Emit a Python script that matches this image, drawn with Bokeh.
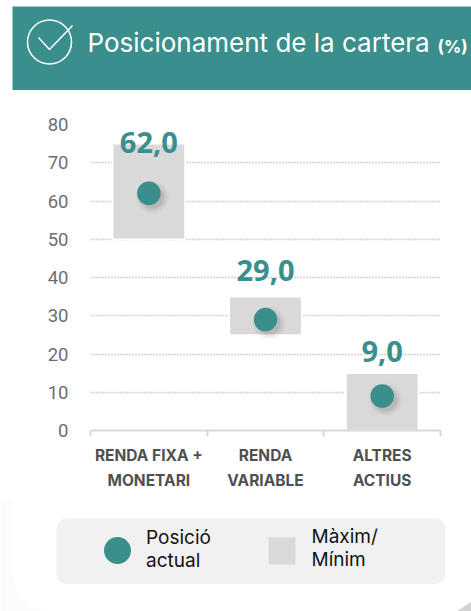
import math
from bokeh.plotting import figure
from bokeh.layouts import column
from bokeh.models import FixedTicker, ColumnDataSource, Range1d, LinearAxis, BoxAnnotation
from bokeh.embed import file_html
from bokeh.resources import INLINE
from bokeh.transform import dodge
from bokeh.core.properties import value

categories = ["RENDA FIXA +\nMONETARI", "RENDA\nVARIABLE", "ALTRES\nACTIUS"]
maximum = [75, 35, 15]
minimum = [50, 25, 0]
actual = [62.0, 29.0, 9.0]
labels = ["62,0", "29,0", "9,0"]
label_pos = [72.4, 39.0, 17.8]
y_ticks = [0, 10, 20, 30, 40, 50, 60, 70, 80]
title_text = "Posicionament de la cartera"
title_unit = "(%)"
legend_actual = ["Posició", "actual"]
legend_range = ["Màxim/", "Mínim"]

TEAL = "#3a8f8c"
GREY = "#d9d9d9"
W = 471


def panel(h, top):
    """A figure without axes whose data coordinates are page pixels (y downwards)."""
    f = figure(width=W, height=h, x_range=Range1d(0, W), y_range=Range1d(top + h, top),
               output_backend="svg", toolbar_location=None, min_border=0, frame_align=False,
               border_fill_color="#ffffff", background_fill_color="#ffffff", outline_line_color=None)
    f.axis.visible = False
    f.grid.visible = False
    return f


# header
H1 = 90
head = panel(H1, 0)
head.quad(left=[12], right=[W], top=[6], bottom=[90], fill_color=TEAL, line_color=None)
head.circle(x=[49], y=[41.5], radius=22, fill_color=None, line_color="#ffffff", line_width=1.5)
head.line(x=[38, 49, 72], y=[37, 49, 25], line_color="#ffffff", line_width=1.5)
head.text(x=[87], y=[52], text=[title_text], text_color="#ffffff", text_font=value("Inter"),
          text_font_size="26px", text_baseline="alphabetic", y_offset=-10)
head.text(x=[437], y=[52], text=[title_unit], text_color="#ffffff", text_font=value("Inter"),
          text_font_style="bold", text_font_size="17px", text_baseline="alphabetic", y_offset=-6)

# chart
centres = [i + 0.5 for i in range(len(categories))]
src = ColumnDataSource(dict(x=centres, hi=maximum, lo=minimum, val=actual, lab=labels, pos=label_pos))
H2 = 410
p = figure(width=W, height=H2, x_range=Range1d(0, len(categories)), y_range=Range1d(0, 80),
           output_backend="svg", toolbar_location=None, frame_align=False,
           min_border_left=90, min_border_right=31, min_border_top=34, min_border_bottom=H2 - 340,
           background_fill_color=None, border_fill_color="#ffffff", outline_line_color=None)
p.add_layout(BoxAnnotation(left=0, right=12, top=0, bottom=H2, left_units="canvas", right_units="canvas",
                           top_units="canvas", bottom_units="canvas", fill_color="#fcfcfc", fill_alpha=1,
                           line_color=None))
p.xgrid.visible = False
p.ygrid.grid_line_color = "#a8a8a8"
p.ygrid.grid_line_dash = "1 2"
p.ygrid.grid_line_width = 1.5
p.ygrid.ticker = FixedTicker(ticks=y_ticks[1:])
p.yaxis.ticker = FixedTicker(ticks=y_ticks)
p.yaxis.axis_line_color = None
p.yaxis.major_tick_line_color = None
p.yaxis.major_tick_out = 0
p.yaxis.minor_tick_line_color = None
p.yaxis.major_label_text_font = "Roboto"
p.yaxis.major_label_text_font_size = "18.5px"
p.yaxis.major_label_text_color = "#6e6e6e"
p.yaxis.major_label_standoff = 22

slots = LinearAxis(ticker=FixedTicker(ticks=list(range(len(categories) + 1))),
                   axis_line_color=GREY, axis_line_width=2, major_tick_line_color=GREY,
                   major_tick_line_width=2, major_tick_in=0, major_tick_out=6, minor_tick_line_color=None,
                   major_label_text_font_size="1px", major_label_text_color=None, major_label_standoff=0)
cat_axis = p.below[0]
cat_axis.ticker = FixedTicker(ticks=centres)
cat_axis.major_label_overrides = dict(zip(centres, categories))
cat_axis.axis_line_color = None
cat_axis.major_tick_line_color = None
cat_axis.minor_tick_line_color = None
cat_axis.major_tick_out = 0
cat_axis.major_label_text_font = "Inter"
cat_axis.major_label_text_font_style = "bold"
cat_axis.major_label_text_font_size = "15.5px"
cat_axis.major_label_text_line_height = 1.32
cat_axis.major_label_text_color = "#505050"
cat_axis.major_label_standoff = 9
p.below = [slots, cat_axis]

p.vbar(x="x", top="hi", bottom="lo", width=0.62, source=src, fill_color=GREY, line_color="#ffffff", line_width=1.5)
for size, a in [(34, 0.015), (31, 0.02), (28, 0.03), (25, 0.04), (22, 0.05)]:
    p.scatter(x=dodge("x", 0.03), y=dodge("val", -1.0), size=size, source=src,
              fill_color="#000000", fill_alpha=a, line_color=None)
p.scatter(x="x", y="val", size=23.5, source=src, fill_color=TEAL, line_color=None)
p.text(x="x", y="pos", text="lab", source=src, text_color=TEAL, text_font=value("Open Sans"),
       text_font_style="bold", text_font_size="29px", text_align="center", text_baseline="alphabetic",
       y_offset=-11)

# legend and the card's lower corners
H3 = 611 - H1 - H2
top3 = H1 + H2
leg = panel(H3, top3)
arc = [i * math.pi / 40 for i in range(21)]
left_xs = [0, 12] + [52 - 40 * math.cos(t) for t in arc] + [0]
left_ys = [top3, top3] + [571 + 40 * math.sin(t) for t in arc] + [611]
leg.patch(left_xs, left_ys, fill_color="#fcfcfc", line_color=None)
right_xs = [471, 456, 471]
right_ys = [611, 611, 601]
leg.patch(right_xs, right_ys, fill_color="#d2d2d2", line_color=None)
leg.quad(left=[56], right=[445], top=[518], bottom=[583.5], fill_color="#f1f1f1", line_color=None, border_radius=10)
leg.scatter(x=[117], y=[550], size=27, fill_color=TEAL, line_color=None)
leg.quad(left=[268], right=[295], top=[537], bottom=[564], fill_color=GREY, line_color=None)
for x, y, t in [(145.5, 545, legend_actual[0]), (145.5, 568, legend_actual[1]),
                (311, 544, legend_range[0]), (311, 567, legend_range[1])]:
    leg.text(x=[x], y=[y], text=[t], text_color="#111111", text_font=value("Inter"),
             text_font_size="19px", text_baseline="alphabetic", y_offset=-8)

page = column(head, p, leg, spacing=0, margin=0)
open("out.html", "w").write(file_html(page, INLINE))
